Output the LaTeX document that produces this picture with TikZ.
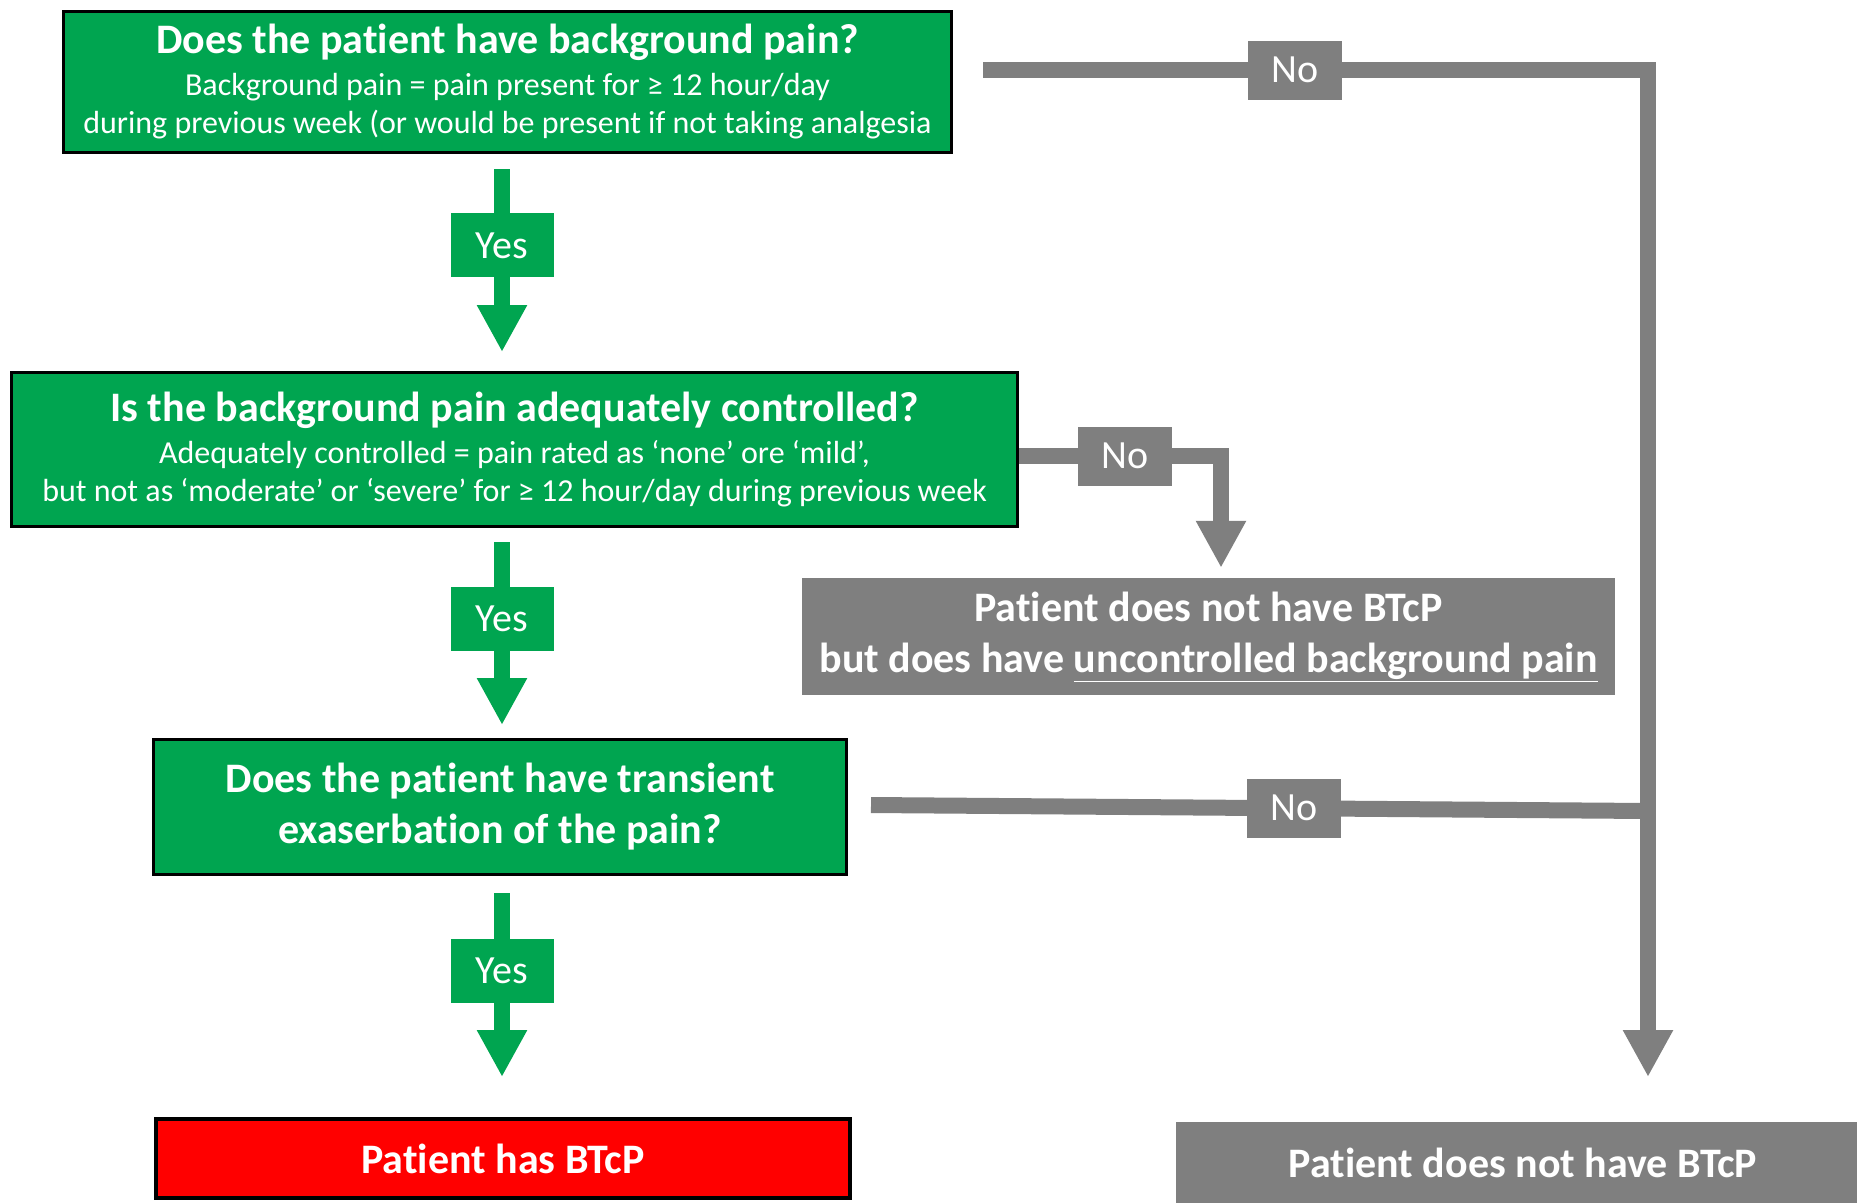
\documentclass[tikz,border=0pt]{standalone}
\usepackage{fontspec}
\setmainfont{Carlito}[Ligatures=NoCommon]
\usetikzlibrary{arrows.meta, positioning}
\definecolor{bpgreen}{HTML}{00A550}
\definecolor{bpgrey}{HTML}{7F7F7F}
\definecolor{bpred}{HTML}{FF0000}
\newcommand\bighead{\fontsize{42}{51}\selectfont\bfseries}
\newcommand\smallline{\fontsize{32}{38}\selectfont}
\tikzset{
  every picture/.style={line join=miter},
  % question boxes
  qbox/.style={draw=black, line width=3pt, fill=bpgreen, text=white, inner sep=0pt, align=center, font=\smallline},
  qhead/.style={qbox, font=\bighead},
  % outcome boxes
  nobox/.style={fill=bpgrey, text=white, inner sep=0pt, align=center, font=\bighead},
  hasbox/.style={draw=black, line width=4pt, fill=bpred, text=white, inner sep=0pt, align=center, font=\bighead},
  % connectors and their labels
  yesarrow/.style={draw=bpgreen, line width=16pt, -{Triangle[length=47pt, width=47pt]}},
  noarrow/.style={draw=bpgrey, line width=16pt, -{Triangle[length=47pt, width=47pt]}},
  noline/.style={draw=bpgrey, line width=16pt},
  yeslab/.style={fill=bpgreen, text=white, inner sep=0pt, minimum width=103pt, minimum height=64pt, font=\fontsize{40}{40}\selectfont},
  nolab/.style={fill=bpgrey, text=white, inner sep=0pt, minimum width=94pt, minimum height=59pt, font=\fontsize{40}{40}\selectfont},
}
\begin{document}
\begin{tikzpicture}[x=1pt, y=-1pt]
  \useasboundingbox (0,0) rectangle (1857,1202);
  % questions
  \node[qbox, minimum width=888pt, minimum height=141pt] (bgpain) at (507.5,82)
    {{\bighead Does the patient have background pain?}\\[4pt]
     Background pain = pain present for ≥ 12 hour/day\\
     during previous week (or would be present if not taking analgesia};
  \node[qbox, minimum width=1006pt, minimum height=154pt] (bgctrl) at (514.5,449.5)
    {{\bighead Is the background pain adequately controlled?}\\[4pt]
     Adequately controlled = pain rated as ‘none’ ore ‘mild’,\\
     but not as ‘moderate’ or ‘severe’ for ≥ 12 hour/day during previous week};
  \node[qhead, minimum width=693pt, minimum height=135pt] (transient) at (500,807)
    {Does the patient have transient\\ exaserbation of the pain?};
  % outcomes
  \node[nobox, minimum width=813pt, minimum height=117pt] (uncbox) at (1208.5,636.5)
    {Patient does not have BTcP\\ but does have \underline{uncontrolled background pain}};
  \node[hasbox, minimum width=694pt, minimum height=79pt] (hasbtcp) at (503,1158.5) {Patient has BTcP};
  \node[nobox, minimum width=694pt, minimum height=82pt] (nobtcp) at (1523,1163) {Patient does not have BTcP};
  % right-hand column
  \coordinate (stem) at (502,0);
  \coordinate (rcol) at (1648,70);
  \coordinate (njoin) at (1648,811);
  \coordinate (rtip) at (1648,1077);
  \coordinate (ncorner) at (1221,456);
  % yes branches
  \draw[yesarrow] ([yshift=-15pt]bgpain.south -| stem) -- node[yeslab, pos=0.418] {Yes} ([yshift=19pt]bgctrl.north -| stem);
  \draw[yesarrow] ([yshift=-14pt]bgctrl.south -| stem) -- node[yeslab, pos=0.418] {Yes} ([yshift=13pt]transient.north -| stem);
  \draw[yesarrow] ([yshift=-17pt]transient.south -| stem) -- node[yeslab, pos=0.424] {Yes} ([yshift=40pt]hasbtcp.north -| stem);
  % no branches
  \draw[noarrow] ([xshift=30pt, yshift=12pt]bgpain.east) -- node[nolab, pos=0.469] {No} (rcol) -- (rtip);
  \draw[noarrow] ([yshift=-6.5pt]bgctrl.east) -- node[nolab, pos=0.525] {No} (ncorner) -- ([yshift=10pt]ncorner |- uncbox.north);
  \draw[noline] ([xshift=23pt, yshift=2pt]transient.east) -- node[nolab, pos=0.544] {No} (njoin);
\end{tikzpicture}
\end{document}
